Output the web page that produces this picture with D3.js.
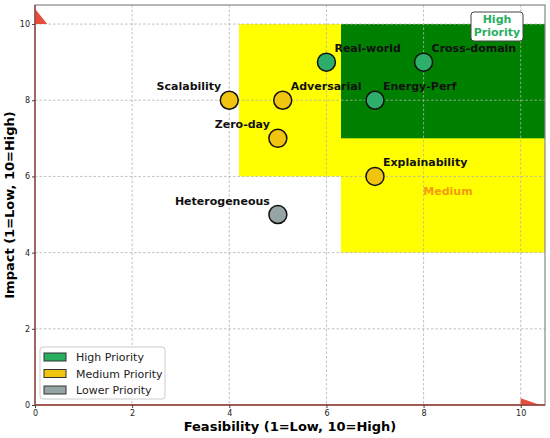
<!DOCTYPE html>
<html><head><meta charset="utf-8">
<script src="https://cdn.jsdelivr.net/npm/d3@7"></script>
<style>body{margin:0;background:#fff}svg{display:block;font-family:"DejaVu Sans",sans-serif}</style>
</head><body>
<svg id="c" width="550" height="438"></svg>
<script>
const names = ["Real-world","Cross-domain","Energy-Perf","Scalability","Adversarial","Zero-day","Explainability","Heterogeneous"];
const feasibility = [6, 8, 7, 4, 5.1, 5, 7, 5];
const impact = [9, 9, 8, 8, 8, 7, 6, 5];
const priority = ["High","High","High","Medium","Medium","Medium","Medium","Lower"];
const labelSide = ["right","right","right","left","right","left","right","left"];
const ticks = [0, 2, 4, 6, 8, 10];
const legendLabels = ["High Priority","Medium Priority","Lower Priority"];
const legendKeys = ["High","Medium","Lower"];
// zones: [x0, x1, y0, y1]
const yellowZones = [[4.2, 10.5, 6, 10], [6.3, 10.5, 4, 10]];
const greenZones = [[6.3, 10.5, 7, 10]];

const colors = {High:"#2eae6b", Medium:"#f1c40f", Lower:"#95a5a6"};
const legendColors = {High:"#27ae60", Medium:"#f1c40f", Lower:"#95a5a6"};

const svg = d3.select("#c");
const m = {l:35, r:545, t:5, b:405};
const x = d3.scaleLinear().domain([0,10.5]).range([m.l, m.r]);
const y = d3.scaleLinear().domain([0,10.5]).range([m.b, m.t]);

const clip = svg.append("defs").append("clipPath").attr("id","pa").append("rect")
  .attr("x",m.l).attr("y",m.t).attr("width",m.r-m.l).attr("height",m.b-m.t);
const g = svg.append("g").attr("clip-path","url(#pa)");

g.selectAll("rect.y").data(yellowZones).join("rect")
  .attr("x",d=>x(d[0])).attr("width",d=>x(d[1])-x(d[0]))
  .attr("y",d=>y(d[3])).attr("height",d=>y(d[2])-y(d[3])).attr("fill","#ffff00");
g.selectAll("rect.g").data(greenZones).join("rect")
  .attr("x",d=>x(d[0])).attr("width",d=>x(d[1])-x(d[0]))
  .attr("y",d=>y(d[3])).attr("height",d=>y(d[2])-y(d[3])).attr("fill","#008000");

// grid
g.selectAll("line.gx").data(ticks).join("line")
  .attr("x1",d=>x(d)).attr("x2",d=>x(d)).attr("y1",m.t).attr("y2",m.b)
  .attr("stroke","#b0b0b0").attr("stroke-width",0.8).attr("stroke-dasharray","2.5,2");
g.selectAll("line.gy").data(ticks).join("line")
  .attr("y1",d=>y(d)).attr("y2",d=>y(d)).attr("x1",m.l).attr("x2",m.r)
  .attr("stroke","#b0b0b0").attr("stroke-width",0.8).attr("stroke-dasharray","2.5,2");

// arrows
g.append("path").attr("d",`M${x(0)},${y(10)} L${x(0)},${y(10.4)} L${x(0.25)},${y(10)} Z`).attr("fill","#e74c3c");
g.append("path").attr("d",`M${x(10)},${y(0)} L${x(10)},${y(0.18)} L${x(10.4)},${y(0)} Z`).attr("fill","#e74c3c");

// frame
svg.append("rect").attr("x",m.l).attr("y",m.t).attr("width",m.r-m.l).attr("height",m.b-m.t)
  .attr("fill","none").attr("stroke","#888").attr("stroke-width",1.2);
svg.append("line").attr("x1",x(0)).attr("x2",x(0)).attr("y1",m.t).attr("y2",m.b).attr("stroke","#9a3b33").attr("stroke-width",1.3);
svg.append("line").attr("x1",m.l).attr("x2",m.r).attr("y1",y(0)).attr("y2",y(0)).attr("stroke","#9a3b33").attr("stroke-width",1.3);

// axes
const ax = svg.append("g").attr("transform",`translate(0,${m.b})`)
  .call(d3.axisBottom(x).tickValues(ticks).tickSize(3).tickPadding(2));
const ay = svg.append("g").attr("transform",`translate(${m.l},0)`)
  .call(d3.axisLeft(y).tickValues(ticks).tickSize(3).tickPadding(2));
[ax,ay].forEach(a=>{a.select(".domain").remove();
  a.selectAll("text").attr("font-size",8).attr("fill","#222").attr("font-family","DejaVu Sans");
  a.selectAll("line").attr("stroke","#444");});

// points
const pts = names.map((n,i)=>({n, fx:feasibility[i], im:impact[i], p:priority[i], s:labelSide[i]}));
svg.selectAll("circle.pt").data(pts).join("circle")
  .attr("cx",d=>x(d.fx)).attr("cy",d=>y(d.im)).attr("r",9)
  .attr("fill",d=>colors[d.p]).attr("stroke","#111").attr("stroke-width",1.5);
svg.selectAll("text.lb").data(pts).join("text")
  .attr("x",d=>x(d.fx)+(d.s==="right"?8:-8)).attr("y",d=>y(d.im)-10)
  .attr("text-anchor",d=>d.s==="right"?"start":"end")
  .attr("font-size",11).attr("font-weight","bold").attr("fill","#111").text(d=>d.n);

// annotations
const hb = svg.append("g");
hb.append("rect").attr("x",471).attr("y",12).attr("width",52).attr("height",29).attr("rx",3)
  .attr("fill","#fff").attr("stroke","#444").attr("stroke-width",1);
hb.append("text").attr("x",497).attr("y",23).attr("text-anchor","middle").attr("font-size",11)
  .attr("font-weight","bold").attr("fill","#27ae60").text("High");
hb.append("text").attr("x",497).attr("y",36).attr("text-anchor","middle").attr("font-size",11)
  .attr("font-weight","bold").attr("fill","#27ae60").text("Priority");
svg.append("text").attr("x",448).attr("y",195).attr("text-anchor","middle").attr("font-size",11)
  .attr("font-weight","bold").attr("fill","#f39c12").text("Medium");

// legend
const lg = svg.append("g");
lg.append("rect").attr("x",40).attr("y",347).attr("width",125).attr("height",52).attr("rx",3)
  .attr("fill","#fff").attr("fill-opacity",0.85).attr("stroke","#ccc");
legendKeys.forEach((k,i)=>{
  lg.append("rect").attr("x",44).attr("y",353+i*16.5).attr("width",22).attr("height",8)
    .attr("fill",legendColors[k]).attr("stroke","#333").attr("stroke-width",1);
  lg.append("text").attr("x",76).attr("y",361+i*16.5).attr("font-size",11).attr("fill","#222").text(legendLabels[i]);
});

// axis titles
svg.append("text").attr("x",(m.l+m.r)/2).attr("y",431).attr("text-anchor","middle")
  .attr("font-size",13).attr("font-weight","bold").text("Feasibility (1=Low, 10=High)");
svg.append("text").attr("transform",`translate(14,${(m.t+m.b)/2}) rotate(-90)`).attr("text-anchor","middle")
  .attr("font-size",13).attr("font-weight","bold").text("Impact (1=Low, 10=High)");
</script>
</body></html>
